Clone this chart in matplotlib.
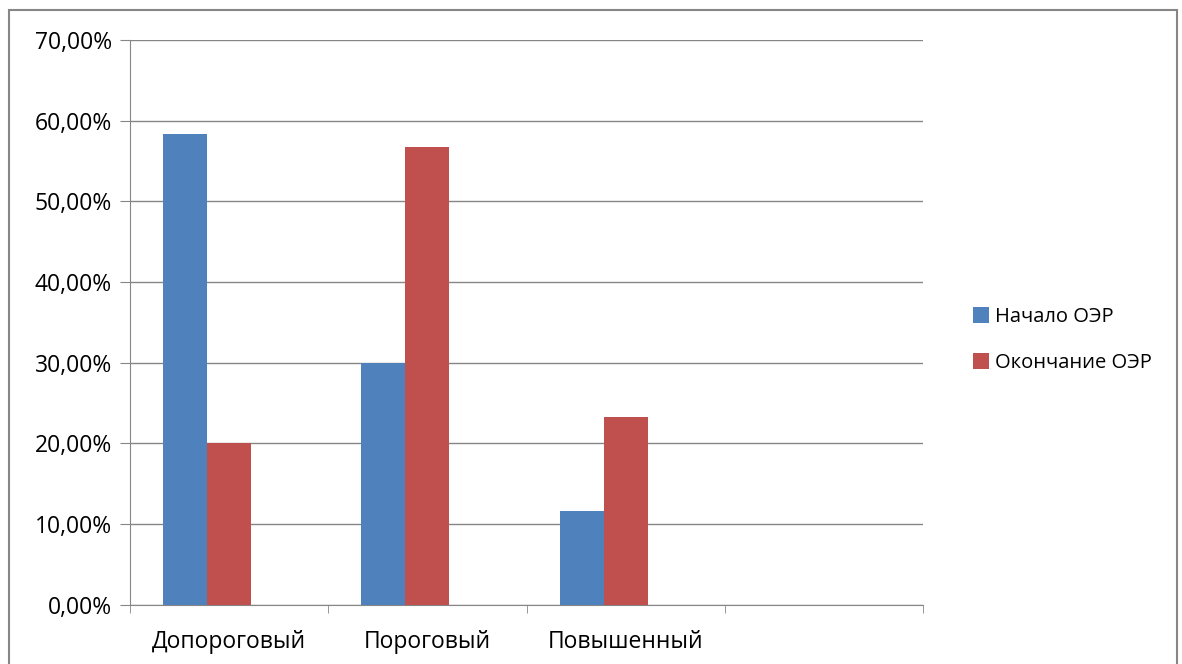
import numpy as np
import matplotlib.pyplot as plt
from matplotlib.patches import Rectangle

categories = ['Допороговый', 'Пороговый', 'Повышенный', '']
start_vals = [58.33, 30.0, 11.67, 0]   # Начало ОЭР
end_vals = [20.0, 56.67, 23.33, 0]     # Окончание ОЭР
series_names = ['Начало ОЭР', 'Окончание ОЭР']
yticks = [0, 10, 20, 30, 40, 50, 60, 70]

blue = '#4f81bd'
red = '#c0504d'
gray = '#868686'

plt.rcParams['font.family'] = ['Open Sans', 'DejaVu Sans']

fig = plt.figure(figsize=(11.82, 6.64), dpi=100)
ax = fig.add_axes([0.110, 0.089, 0.671, 0.851])

x = np.arange(len(categories))
w = 0.222
ax.bar(x[:3] - w, start_vals[:3], w, align='center', color=blue, label=series_names[0], zorder=3)
ax.bar(x[:3], end_vals[:3], w, align='center', color=red, label=series_names[1], zorder=3)

ax.set_xlim(-0.5, 3.5)
ax.set_ylim(0, 70)
ax.set_yticks(yticks)
ax.set_yticklabels([f'{v},00%' for v in yticks], fontsize=16.5)
ax.yaxis.grid(True, color=gray, linewidth=1, zorder=0)

ax.set_xticks(x)
ax.set_xticklabels(categories, fontsize=16.5)
ax.set_xticks(np.arange(-0.5, 4, 1), minor=True)
ax.tick_params(axis='x', which='major', length=0, pad=18)
ax.tick_params(axis='x', which='minor', length=6, color=gray, direction='out')
ax.tick_params(axis='y', length=7, color=gray, direction='out', pad=6)

for s in ['top', 'right']:
    ax.spines[s].set_visible(False)
for s in ['left', 'bottom']:
    ax.spines[s].set_color(gray)

leg = fig.legend(loc='center left', bbox_to_anchor=(0.808, 0.488), frameon=False,
                 fontsize=14.5, handlelength=0.8, handleheight=0.8, handletextpad=0.3,
                 labelspacing=1.3)

fig.patches.append(Rectangle((9 / 1182, -0.05), (1177 - 9) / 1182, 1 - 10 / 664 + 0.05,
                             transform=fig.transFigure, fill=False,
                             edgecolor=gray, linewidth=1.5))

fig.savefig('out.png', dpi=100)
